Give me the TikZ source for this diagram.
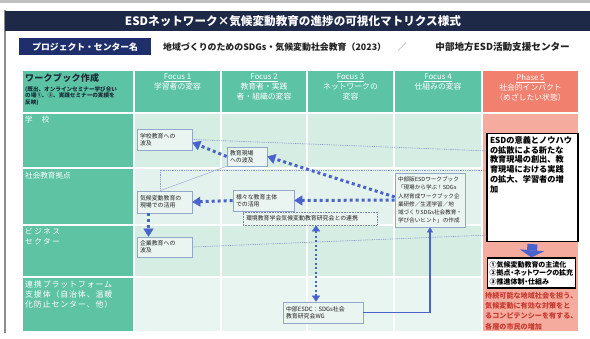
\documentclass[tikz,border=0pt]{standalone}
\usepackage{fontspec}
\setmainfont{Noto Sans CJK JP}
\usetikzlibrary{arrows.meta,calc}
\definecolor{navy}{HTML}{1E2847}
\definecolor{projnavy}{HTML}{1F2F6B}
\definecolor{hdrgreen}{HTML}{5CC4A5}
\definecolor{leftgreen}{HTML}{5DC3A3}
\definecolor{mintA}{HTML}{D6EDE4}
\definecolor{mintB}{HTML}{E3F2EC}
\definecolor{mintC}{HTML}{E9F5F1}
\definecolor{salmon}{HTML}{F2806F}
\definecolor{pinkbody}{HTML}{F6AB9F}
\definecolor{arrowblue}{HTML}{4A62CC}
\definecolor{thinblue}{HTML}{8797CC}
\definecolor{boxline}{HTML}{93A8C8}
\definecolor{boxfill}{HTML}{EAF4F0}
\definecolor{redtxt}{HTML}{C53A2E}
\definecolor{darktxt}{HTML}{222222}
\definecolor{hdrdark}{HTML}{1B2A35}
\begin{document}
\begin{tikzpicture}[x=1pt,y=-1pt,
  cell/.style={draw=white, line width=1.2pt},
  box/.style={draw=boxline, fill=boxfill, line width=0.6pt, inner xsep=3pt, inner ysep=1pt, align=left, text=darktxt, font=\fontsize{5.9}{7.2}\selectfont},
  bigbox/.style={draw=black, fill=white, line width=1.3pt, inner sep=3pt, align=left, text=black},
  hdr/.style={anchor=north, align=center, text=white, inner sep=0pt, font=\fontsize{7.8}{10}\selectfont},
  rowlbl/.style={anchor=north west, align=left, text=white, inner sep=0pt, font=\fontsize{7.6}{9.6}\selectfont},
  thickdot/.style={draw=arrowblue, line width=3pt, dash pattern=on 3pt off 3pt, -{Triangle[length=8pt,width=10pt,line width=0.4pt]}},
  dbldot/.style={draw=arrowblue, line width=2pt, dash pattern=on 2pt off 2.5pt, {Triangle[length=6pt,width=8pt,line width=0.4pt]}-{Triangle[length=6pt,width=8pt,line width=0.4pt]}},
  thinline/.style={draw=thinblue, line width=0.6pt, dash pattern=on 1pt off 0.8pt},
  thinsolid/.style={draw=thinblue!80, line width=0.5pt},
  solidarrow/.style={draw=arrowblue, line width=1.5pt, -{Triangle[length=5pt,width=6pt,line width=0.3pt]}},
  blockarrow/.style={draw=arrowblue, line width=10pt, -{Triangle[length=7pt,width=24pt,line width=0.3pt]}}
]
\useasboundingbox (0,0) rectangle (590,338);
\fill[white] (0,0) rectangle (590,338);
\fill[black!25] (0,0) rectangle (590,2.5);
\draw[black!45, line width=1.6pt] (5,10) -- (5,333);
% title band
\fill[navy] (5,11) rectangle (590,31);
\node[text=white, font=\bfseries\fontsize{11.6}{13}\selectfont, inner sep=0pt] (title) at (293,21) {ESDネットワーク×気候変動教育の進捗の可視化マトリクス様式};
% project row
\node[fill=projnavy, text=white, font=\bfseries\fontsize{8.8}{9}\selectfont, minimum width=132pt, minimum height=17pt, inner sep=0pt, anchor=north west] (proj) at (19,38) {プロジェクト・センター名};
\node[anchor=west, inner sep=0pt, text=darktxt, font=\bfseries\fontsize{8.9}{9}\selectfont] (ptitle) at (163,47) {地域づくりのためのSDGs・気候変動社会教育（2023）};
\node[inner sep=0pt, text=black!55, font=\fontsize{8.9}{9}\selectfont] (pslash) at (402,47) {／};
\node[anchor=east, inner sep=0pt, text=darktxt, font=\bfseries\fontsize{9.6}{10}\selectfont] (porg) at (570,47) {中部地方ESD活動支援センター};
% header cells
\path[cell, fill=hdrgreen] (22,70) rectangle (134,113);
\path[cell, fill=hdrgreen] (134,70) rectangle (221,113);
\path[cell, fill=hdrgreen] (221,70) rectangle (307,113);
\path[cell, fill=hdrgreen] (307,70) rectangle (394,113);
\path[cell, fill=hdrgreen] (394,70) rectangle (482,113);
\path[cell, fill=salmon] (482,70) rectangle (579,113);
% body cells
\foreach \ya/\yb/\col in {113/168/mintA, 168/225/mintB, 225/277/mintA, 277/332/mintC}{
  \path[cell, fill=leftgreen] (22,\ya) rectangle (134,\yb);
  \path[cell, fill=\col] (134,\ya) rectangle (221,\yb);
  \path[cell, fill=\col] (221,\ya) rectangle (307,\yb);
  \path[cell, fill=\col] (307,\ya) rectangle (394,\yb);
  \path[cell, fill=\col] (394,\ya) rectangle (482,\yb);
}
\path[cell, fill=pinkbody] (482,113) rectangle (579,332);
% header texts
\node[anchor=north west, inner sep=0pt, text=hdrdark, font=\bfseries\fontsize{9}{10}\selectfont\addfontfeature{LetterSpace=3}] (wbh) at (25,73) {ワークブック作成};
\node[anchor=north west, inner sep=0pt, align=left, text=hdrdark, font=\bfseries\fontsize{5.6}{6.6}\selectfont] (wbs) at (25,86) {(既出、オンラインセミナー学び合い\\の場①、②、実践セミナーの実績を\\反映)};
\node[hdr] (f1) at (177.5,74) {\underline{Focus 1}\\学習者の変容};
\node[hdr] (f2) at (264,74) {\underline{Focus 2}\\教育者・実践\\者・組織の変容};
\node[hdr] (f3) at (350.5,74) {\underline{Focus 3}\\ネットワークの\\変容};
\node[hdr] (f4) at (438,74) {\underline{Focus 4}\\仕組みの変容};
\node[hdr] (p5) at (530.5,74) {\underline{Phase 5}\\社会的インパクト\\（めざしたい状態）};
% row labels
\node[rowlbl] (r1) at (25,116) {学\hspace{9pt}校};
\node[rowlbl] (r2) at (25,172) {社会教育拠点};
\node[rowlbl, font=\fontsize{7.6}{9.6}\selectfont\addfontfeature{LetterSpace=20}] (r3) at (25,228) {ビジネス\\セクター};
\node[rowlbl, font=\fontsize{8}{10}\selectfont\addfontfeature{LetterSpace=10}] (r4) at (25,281) {連携プラットフォーム\\支援体（自治体、温暖\\化防止センター、他）};
% boxes
\node[box, text width=49pt, minimum height=21pt] (b1) at (164.5,139.5) {学校教育への\\波及};
\node[box, text width=34pt, minimum height=19pt] (b2) at (247,156.5) {教育現場\\への波及};
\node[box, text width=49pt, minimum height=22pt] (b3) at (164.5,202) {気候変動教育の\\現場での活用};
\node[box, text width=55pt, minimum height=21pt] (b4) at (263.5,200.5) {様々な教育主体\\での活用};
\node[box, draw=boxline!80!black, dash pattern=on 1pt off 0.6pt, text width=128pt, minimum height=13pt] (b5) at (310,218.5) {環境教育学会気候変動教育研究会との連携};
\node[box, text width=64pt, minimum height=54pt, font=\fontsize{5.6}{8.3}\selectfont] (b6) at (430,200) {中部版ESDワークブック\\「現場から学ぶ！SDGs\\人材育成ワークブック企\\業研修／生涯学習／地\\域づくりSDGs社会教育・\\学び合いヒント」の作成};
\node[box, text width=49pt, minimum height=20pt] (b7) at (164.5,247) {企業教育への\\波及};
\node[box, text width=74pt, minimum height=21pt] (b8) at (323,312.5) {中部ESDC：SDGs社会\\教育研究会WG};
\node[bigbox, font=\bfseries\fontsize{8.2}{9.7}\selectfont] (b9) at (532.5,187.5) {\parbox[t][102pt][t]{85pt}{ESDの意義とノウハウ\\の拡散による新たな\\教育現場の創出、教\\育現場における実践\\の拡大、学習者の増\\加}};
\node[bigbox, font=\bfseries\fontsize{7}{8.6}\selectfont\addfontfeature{RawFeature=+palt}, text width=84pt, minimum height=30pt, inner sep=2pt] (b10) at (531.5,273) {①気候変動教育の主流化\\②拠点・ネットワークの拡充\\③推進体制・仕組み};
\node[anchor=north west, inner sep=0pt, align=left, text=redtxt, font=\bfseries\fontsize{7.1}{10.3}\selectfont] (red) at (485,292) {持続可能な地域社会を担う、\\気候変動に有効な対策をと\\るコンピテンシーを有する、\\各層の市民の増加};
% thin connectors
\draw[thinline] (b1.east) -- ([yshift=-18pt]b9.north west);
\draw[thinline] ([xshift=-4.5pt]b3.north) |- ([yshift=-37pt]b9.north west);
\draw[thinsolid] ([xshift=-4.5pt]b3.north) -- (b2.south west);
\draw[thinline] (b7.east) -- ([yshift=7pt]b9.south west);
% thick connectors
\draw[thickdot] ([yshift=3pt]b6.west) -- (b2.east);
\draw[thickdot] (b6.west) -- (b4.east);
\draw[thickdot] (b4.west) -- (b3.east);
\draw[thickdot] (b2.west) -- ([yshift=-3pt]b1.east);
\draw[thickdot] ([xshift=-16pt]b3.south) -- ([xshift=-16pt]b7.north);
\draw[dbldot] ([xshift=6pt]b5.south) -- ([xshift=-7pt]b8.north);
\draw[solidarrow] (b8.east) -| (b6.south);
\draw[blockarrow] ([yshift=-2pt]b9.south) -- (b10.north);
\end{tikzpicture}
\end{document}
